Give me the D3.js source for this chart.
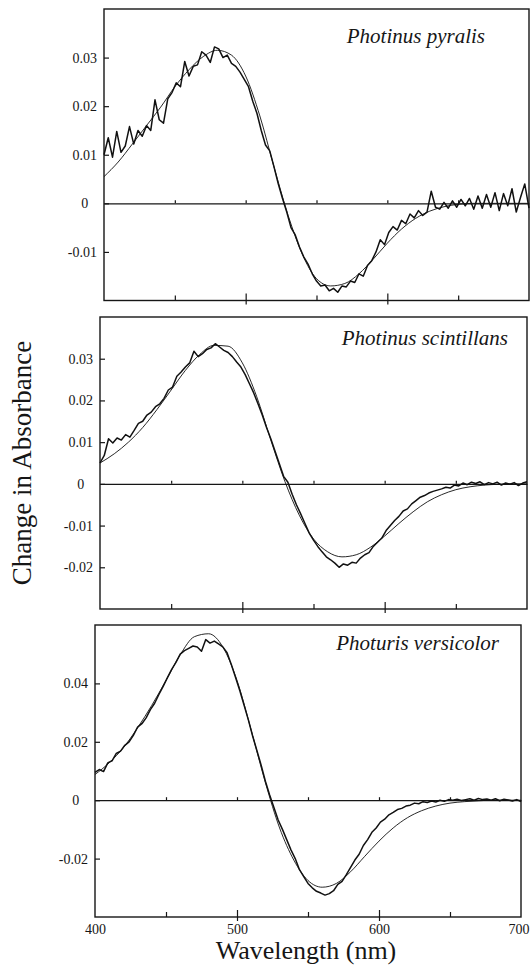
<!DOCTYPE html>
<html>
<head>
<meta charset="utf-8">
<script src="https://cdn.jsdelivr.net/npm/d3@7"></script>
<style>
body { margin: 0; background: #fff; }
svg { display: block; font-family: 'Liberation Serif', 'Times New Roman', serif; }
.tick text { font-family: 'Liberation Serif', 'Times New Roman', serif; font-size: 14px; fill: #161616; }
.tick line { stroke: #161616; stroke-width: 1.2; }
.frame { fill: none; stroke: #161616; stroke-width: 1.4; }
.zero-line path { stroke: #161616; stroke-width: 1.3; }
.observed { fill: none; stroke: #111; stroke-width: 1.5; stroke-linejoin: round; }
.fit { fill: none; stroke: #111; stroke-width: 0.9; }
.species { font-style: italic; font-size: 21px; fill: #161616; }
.axis-title { font-size: 26px; fill: #161616; }
.y-title { font-size: 27px; }
</style>
</head>
<body>
<svg width="530" height="970"></svg>
<script>
// Wavelength grid of the recorded spectra (nm)
var wavelengths = [
    400, 403, 406, 409, 412, 415, 418, 421, 424, 427, 430, 433, 436, 439, 442, 445, 448, 451, 454, 457,
    460, 463, 466, 469, 472, 475, 478, 481, 484, 487, 490, 493, 496, 499, 502, 505, 508, 511, 514, 517,
    520, 523, 526, 529, 532, 535, 538, 541, 544, 547, 550, 553, 556, 559, 562, 565, 568, 571, 574, 577,
    580, 583, 586, 589, 592, 595, 598, 601, 604, 607, 610, 613, 616, 619, 622, 625, 628, 631, 634, 637,
    640, 643, 646, 649, 652, 655, 658, 661, 664, 667, 670, 673, 676, 679, 682, 685, 688, 691, 694, 697, 700
];

// Measured change in absorbance
var pyralisObserved = [
    0.0100, 0.0135, 0.0095, 0.0148, 0.0105, 0.0118, 0.0158, 0.0122, 0.0150, 0.0138, 0.0160, 0.0150, 0.0213, 0.0172, 0.0165, 0.0215, 0.0228, 0.0248, 0.0240, 0.0292,
    0.0262, 0.0282, 0.0285, 0.0312, 0.0305, 0.0290, 0.0322, 0.0318, 0.0300, 0.0305, 0.0288, 0.0282, 0.0270, 0.0255, 0.0240, 0.0210, 0.0185, 0.0150, 0.0120, 0.0108,
    0.0075, 0.0040, 0.0010, -0.0018, -0.0050, -0.0065, -0.0090, -0.0110, -0.0125, -0.0145, -0.0160, -0.0170, -0.0168, -0.0180, -0.0175, -0.0183, -0.0170, -0.0172, -0.0160, -0.0163,
    -0.0145, -0.0150, -0.0128, -0.0118, -0.0100, -0.0075, -0.0085, -0.0060, -0.0048, -0.0055, -0.0035, -0.0042, -0.0022, -0.0030, -0.0015, -0.0025, -0.0018, 0.0025, -0.0008, -0.0012,
    0.0002, -0.0010, 0.0005, -0.0008, 0.0008, -0.0005, 0.0010, -0.0012, 0.0015, -0.0010, 0.0018, -0.0008, 0.0022, -0.0015, 0.0020, -0.0005, 0.0030, -0.0018, 0.0012, 0.0040, -0.0010
];
var scintillansObserved = [
    0.0050, 0.0068, 0.0108, 0.0098, 0.0110, 0.0105, 0.0118, 0.0112, 0.0128, 0.0145, 0.0150, 0.0165, 0.0172, 0.0185, 0.0192, 0.0205, 0.0225, 0.0232, 0.0258, 0.0268,
    0.0280, 0.0290, 0.0318, 0.0305, 0.0312, 0.0322, 0.0326, 0.0336, 0.0328, 0.0320, 0.0315, 0.0305, 0.0292, 0.0280, 0.0262, 0.0240, 0.0218, 0.0192, 0.0165, 0.0135,
    0.0108, 0.0078, 0.0048, 0.0018, 0.0004, -0.0025, -0.0050, -0.0072, -0.0095, -0.0118, -0.0135, -0.0150, -0.0163, -0.0175, -0.0182, -0.0190, -0.0200, -0.0192, -0.0195, -0.0188,
    -0.0190, -0.0178, -0.0170, -0.0165, -0.0150, -0.0140, -0.0130, -0.0112, -0.0100, -0.0088, -0.0078, -0.0065, -0.0060, -0.0048, -0.0040, -0.0032, -0.0028, -0.0022, -0.0018, -0.0015,
    -0.0012, -0.0008, -0.0010, -0.0003, -0.0005, 0.0002, -0.0002, 0.0004, 0.0001, 0.0005, -0.0002, 0.0003, 0.0000, 0.0004, -0.0003, 0.0002, -0.0001, 0.0003, -0.0004, 0.0002, 0.0005
];
var versicolorObserved = [
    0.0095, 0.0105, 0.0098, 0.0128, 0.0135, 0.0160, 0.0168, 0.0188, 0.0200, 0.0222, 0.0250, 0.0262, 0.0282, 0.0310, 0.0332, 0.0362, 0.0390, 0.0420, 0.0448, 0.0472,
    0.0500, 0.0512, 0.0520, 0.0528, 0.0525, 0.0510, 0.0550, 0.0538, 0.0545, 0.0535, 0.0525, 0.0505, 0.0465, 0.0420, 0.0375, 0.0325, 0.0275, 0.0220, 0.0170, 0.0120,
    0.0065, 0.0018, -0.0025, -0.0068, -0.0100, -0.0135, -0.0170, -0.0200, -0.0238, -0.0262, -0.0285, -0.0300, -0.0312, -0.0318, -0.0325, -0.0320, -0.0310, -0.0288, -0.0278, -0.0255,
    -0.0230, -0.0205, -0.0185, -0.0155, -0.0135, -0.0110, -0.0095, -0.0075, -0.0065, -0.0050, -0.0042, -0.0032, -0.0028, -0.0020, -0.0017, -0.0010, -0.0012, -0.0005, -0.0008, -0.0003,
    -0.0006, 0.0000, -0.0004, 0.0002, 0.0000, 0.0003, -0.0001, 0.0002, 0.0005, 0.0000, 0.0006, 0.0002, 0.0004, 0.0000, 0.0005, -0.0002, 0.0003, 0.0001, -0.0003, 0.0002, -0.0005
];

// Wavelength grid of the fitted curves (nm)
var fitWavelengths = [
    400, 410, 420, 430, 440, 450, 460, 470, 480, 490, 500, 510, 520, 530, 540, 550,
    560, 570, 580, 590, 600, 610, 620, 630, 640, 650, 660, 670, 680, 690, 700
];
var pyralisFit = [
    0.0055, 0.0085, 0.0122, 0.0160, 0.0198, 0.0240, 0.0275, 0.0302, 0.0315, 0.0305, 0.0262, 0.0180, 0.0075, -0.0025, -0.0105, -0.0155,
    -0.0170, -0.0165, -0.0145, -0.0115, -0.0082, -0.0053, -0.0031, -0.0016, -0.0007, -0.0002, 0, 0, 0, 0, 0
];
var scintillansFit = [
    0.0050, 0.0072, 0.0100, 0.0135, 0.0178, 0.0225, 0.0272, 0.0310, 0.0332, 0.0330, 0.0290, 0.0210, 0.0105, 0.0005, -0.0075, -0.0132,
    -0.0163, -0.0175, -0.0170, -0.0152, -0.0125, -0.0095, -0.0067, -0.0043, -0.0026, -0.0014, -0.0007, -0.0003, -0.0001, 0, 0
];
var versicolorFit = [
    0.0088, 0.0128, 0.0180, 0.0248, 0.0325, 0.0410, 0.0498, 0.0560, 0.0570, 0.0525, 0.0410, 0.0240, 0.0060, -0.0095, -0.0205, -0.0275,
    -0.0298, -0.0285, -0.0245, -0.0192, -0.0140, -0.0095, -0.0060, -0.0036, -0.0020, -0.0010, -0.0005, -0.0002, 0, 0, 0
];

var speciesNames = ['Photinus pyralis', 'Photinus scintillans', 'Photuris versicolor'];
var yDomains = [[-0.02, 0.04], [-0.03, 0.04], [-0.04, 0.06]];
var yTickValues = [
    [-0.01, 0, 0.01, 0.02, 0.03],
    [-0.02, -0.01, 0, 0.01, 0.02, 0.03],
    [-0.02, 0, 0.02, 0.04]
];
var xDomain = [400, 700];
var zeroLineTicks = [450, 500, 550, 600, 650];
var minorTicks = [450, 550, 650];
var majorTicks = [500, 600];
var xTickLabels = [400, 500, 600, 700];

var observedSeries = [pyralisObserved, scintillansObserved, versicolorObserved];
var fitSeries = [pyralisFit, scintillansFit, versicolorFit];

var svg = d3.select('svg');

// Panel boxes as they sit on the scanned page (slightly offset from each other)
var panels = [
    {l: 104, r: 529, t: 9, b: 300.5, labelRight: 485, labelBase: 43},
    {l: 100, r: 527, t: 317, b: 609, labelRight: 508, labelBase: 345},
    {l: 95, r: 521, t: 625, b: 917, labelRight: 499, labelBase: 650}
];

function tickFormat(d) {
    return d === 0 ? '0' : d.toFixed(2);
}

panels.forEach(function(p, i) {
    var x = d3.scaleLinear().domain(xDomain).range([p.l, p.r]);
    var y = d3.scaleLinear().domain(yDomains[i]).range([p.b, p.t]);
    var g = svg.append('g').attr('class', 'panel');

    g.append('rect')
        .attr('class', 'frame')
        .attr('x', p.l)
        .attr('y', p.t)
        .attr('width', p.r - p.l)
        .attr('height', p.b - p.t);

    // zero line with small upward ticks
    g.append('g')
        .attr('class', 'zero-line')
        .attr('transform', 'translate(0,' + y(0) + ')')
        .call(d3.axisTop(x).tickValues(zeroLineTicks).tickSizeInner(3).tickSizeOuter(0).tickFormat(''));

    // bottom frame ticks: minor ones inside, major ones crossing the frame
    g.append('g')
        .attr('transform', 'translate(0,' + p.b + ')')
        .call(d3.axisBottom(x).tickValues(minorTicks).tickSizeInner(-5).tickFormat(''))
        .call(function(a) { a.select('.domain').remove(); });

    g.append('g')
        .attr('transform', 'translate(0,' + p.b + ')')
        .call(d3.axisBottom(x).tickValues(majorTicks).tickSizeInner(-7).tickFormat(''))
        .call(function(a) {
            a.select('.domain').remove();
            a.selectAll('.tick line').attr('y1', 4);
        });

    // left axis, ticks pointing inward
    var yAxis = g.append('g')
        .attr('transform', 'translate(' + p.l + ',0)')
        .call(d3.axisLeft(y).tickValues(yTickValues[i]).tickSizeInner(-5).tickSizeOuter(0)
            .tickPadding(7).tickFormat(tickFormat));
    yAxis.select('.domain').remove();

    // the "0" label sits centred in the label column
    var maxW = 0;
    yAxis.selectAll('.tick text').each(function(d) {
        if (d > 0) maxW = Math.max(maxW, this.getComputedTextLength());
    });
    yAxis.selectAll('.tick text')
        .filter(function(d) { return d === 0; })
        .attr('text-anchor', 'middle')
        .attr('x', -7 - maxW / 2);

    var fitLine = d3.line()
        .x(function(d, j) { return x(fitWavelengths[j]); })
        .y(function(d) { return y(d); })
        .curve(d3.curveMonotoneX);

    var obsLine = d3.line()
        .x(function(d, j) { return x(wavelengths[j]); })
        .y(function(d) { return y(d); });

    g.append('path')
        .attr('class', 'fit')
        .attr('d', fitLine(fitSeries[i]));

    g.append('path')
        .attr('class', 'observed')
        .attr('d', obsLine(observedSeries[i]));

    g.append('text')
        .attr('class', 'species')
        .attr('x', p.labelRight)
        .attr('y', p.labelBase)
        .attr('text-anchor', 'end')
        .text(speciesNames[i]);

    // wavelength labels only under the last panel
    if (i === panels.length - 1) {
        g.append('g')
            .attr('transform', 'translate(0,' + p.b + ')')
            .call(d3.axisBottom(x).tickValues(xTickLabels).tickSize(0).tickPadding(7).tickFormat(d3.format('d')))
            .call(function(a) {
                a.select('.domain').remove();
                // last label would run off the page, keep it inside
                a.selectAll('.tick text')
                    .filter(function(d) { return d === xDomain[1]; })
                    .attr('text-anchor', 'end')
                    .attr('x', 529 - p.r);
            });

        svg.append('text')
            .attr('class', 'axis-title')
            .attr('x', 306)
            .attr('y', 959)
            .attr('text-anchor', 'middle')
            .text('Wavelength (nm)');
    }
});

svg.append('text')
    .attr('class', 'axis-title y-title')
    .attr('transform', 'translate(31,463) rotate(-90)')
    .attr('text-anchor', 'middle')
    .text('Change in Absorbance');
</script>
</body>
</html>
